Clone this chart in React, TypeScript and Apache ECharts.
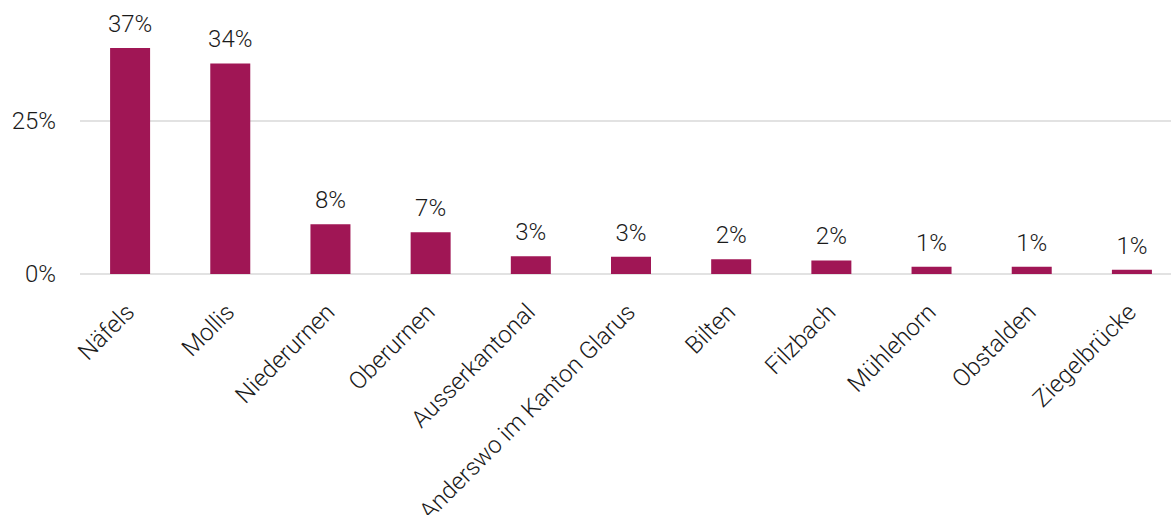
import React, { useEffect, useRef } from "react";
import * as echarts from "echarts";

const categories = [
  "Näfels",
  "Mollis",
  "Niederurnen",
  "Oberurnen",
  "Ausserkantonal",
  "Anderswo im Kanton Glarus",
  "Bilten",
  "Filzbach",
  "Mühlehorn",
  "Obstalden",
  "Ziegelbrücke",
];
const values = [36.8, 34.3, 8.1, 6.8, 2.9, 2.8, 2.4, 2.2, 1.2, 1.2, 0.7];

const SHIFT = 60;

export default function App() {
  const ref = useRef<HTMLDivElement>(null);
  useEffect(() => {
    if (!ref.current) return;
    const chart = echarts.init(ref.current, null, { renderer: "svg" });
    const font = "Roboto";
    const fs = 24;
    chart.setOption({
      animation: false,
      textStyle: { fontFamily: font },
      grid: {
        left: 80,
        top: SHIFT - 33,
        width: 1102,
        height: 307,
        containLabel: false,
        outerBoundsMode: "none",
      },
      xAxis: {
        type: "category",
        data: categories,
        axisLine: { show: false },
        axisTick: { show: false },
        axisLabel: {
          rotate: 45,
          interval: 0,
          margin: 34,
          fontSize: fs,
          fontWeight: 300,
          color: "#1a1a1a",
          fontFamily: font,
        },
      },
      yAxis: {
        type: "value",
        min: 0,
        max: 50,
        interval: 25,
        axisLine: { show: false },
        axisTick: { show: false },
        splitLine: { lineStyle: { color: "#d9d9d9", width: 1.5 } },
        axisLabel: {
          formatter: (v: number) => (v >= 50 ? "" : `${v}%`),
          margin: 24,
          fontSize: fs,
          fontWeight: 300,
          color: "#1a1a1a",
          fontFamily: font,
        },
      },
      series: [
        {
          type: "bar",
          data: values,
          barWidth: 40,
          itemStyle: { color: "#A01655" },
          label: {
            show: true,
            position: "top",
            distance: 12,
            fontSize: fs,
            fontWeight: 300,
            color: "#1a1a1a",
            fontFamily: font,
            formatter: (p: any) => `${Math.round(p.value)}%`,
          },
        },
      ],
    });
    return () => chart.dispose();
  }, []);
  return (
    <div
      ref={ref}
      style={{ position: "fixed", left: 0, top: -SHIFT, width: 1200, height: 515 + SHIFT, background: "#fff" }}
    />
  );
}
